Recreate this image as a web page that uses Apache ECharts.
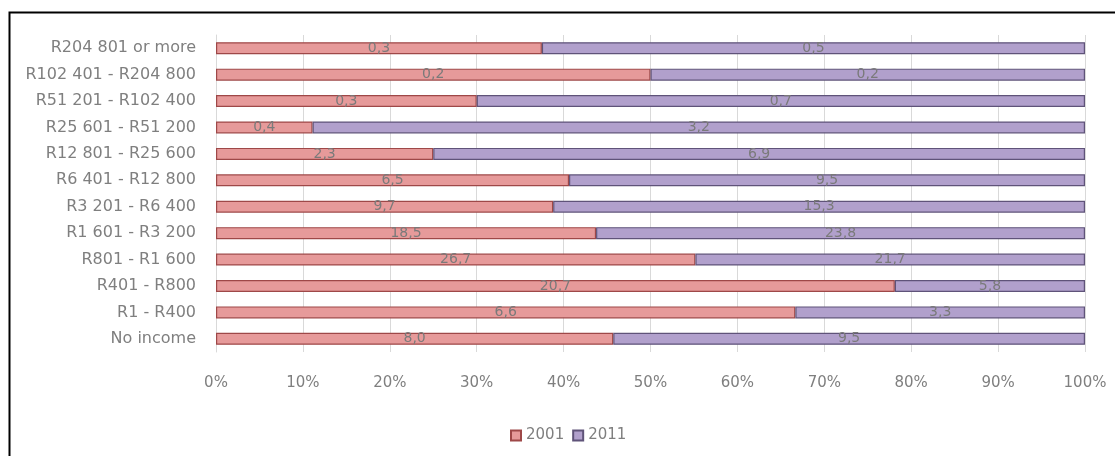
<!DOCTYPE html>
<html>
<head>
<meta charset="utf-8">
<script src="https://cdn.jsdelivr.net/npm/echarts@6/dist/echarts.min.js"></script>
<style>
  html, body { margin: 0; padding: 0; background: #ffffff; }
  #chart { width: 1115px; height: 456px; }
</style>
</head>
<body>
<div id="chart"></div>
<script>
// Income bands, top to bottom
const categories = [
  'R204 801 or more', 'R102 401 - R204 800', 'R51 201 - R102 400',
  'R25 601 - R51 200', 'R12 801 - R25 600', 'R6 401 - R12 800',
  'R3 201 - R6 400', 'R1 601 - R3 200', 'R801 - R1 600',
  'R401 - R800', 'R1 - R400', 'No income'
];
// Share of population in each band (%)
const values2001 = [0.3, 0.2, 0.3, 0.4, 2.3, 6.5, 9.7, 18.5, 26.7, 20.7, 6.6, 8.0];
const values2011 = [0.5, 0.2, 0.7, 3.2, 6.9, 9.5, 15.3, 23.8, 21.7, 5.8, 3.3, 9.5];
const seriesNames = ['2001', '2011'];
const xTicks = [0, 10, 20, 30, 40, 50, 60, 70, 80, 90, 100];

// 100% stacking: each bar segment is its share of the row total
const totals = categories.map((_, i) => values2001[i] + values2011[i]);
const share = (arr) => arr.map((v, i) => ({ value: v / totals[i] * 100, raw: v }));
const fmt = (v) => v.toFixed(1).replace('.', ',');

const textGrey = '#7f7f7f';
const font = 'DejaVu Sans';

const labelStyle = {
  show: true,
  position: 'inside',
  color: '#7a7a7a',
  fontFamily: font,
  fontSize: 14,
  formatter: (p) => fmt(p.data.raw)
};

const chart = echarts.init(document.getElementById('chart'), null, { renderer: 'canvas' });
chart.setOption({
  animation: false,
  backgroundColor: '#ffffff',
  graphic: [{
    type: 'rect',
    left: 7, top: 10,
    shape: { width: 1130, height: 470 },
    style: { fill: 'none', stroke: '#000000', lineWidth: 2 },
    silent: true, z: 100
  }],
  grid: { left: 216, right: 30, top: 35, bottom: 104, containLabel: false },
  legend: {
    data: seriesNames,
    left: 505, top: 423,
    itemWidth: 10, itemHeight: 10, itemGap: 8,
    icon: 'rect',
    textStyle: { color: textGrey, fontFamily: font, fontSize: 15 }
  },
  xAxis: {
    type: 'value',
    min: 0, max: 100, interval: 10,
    axisLine: { show: false },
    axisTick: { show: false },
    splitLine: { show: true, lineStyle: { color: '#d9d9d9', width: 1 } },
    axisLabel: {
      color: textGrey, fontFamily: font, fontSize: 15, margin: 24,
      formatter: (v) => xTicks.includes(v) ? v + '%' : ''
    }
  },
  yAxis: {
    type: 'category',
    data: categories,
    inverse: true,
    axisLine: { show: true, lineStyle: { color: '#d9d9d9' } },
    axisTick: { show: false },
    axisLabel: { color: textGrey, fontFamily: font, fontSize: 16, margin: 20 }
  },
  series: [
    {
      name: seriesNames[0], type: 'bar', stack: 'total', barWidth: 12,
      data: share(values2001),
      itemStyle: { color: '#e69a9a', borderColor: '#9e4848', borderWidth: 1.2 },
      label: labelStyle
    },
    {
      name: seriesNames[1], type: 'bar', stack: 'total', barWidth: 12,
      data: share(values2011),
      itemStyle: { color: '#b1a0cc', borderColor: '#5f5379', borderWidth: 1.2 },
      label: labelStyle
    }
  ]
});
</script>
</body>
</html>
